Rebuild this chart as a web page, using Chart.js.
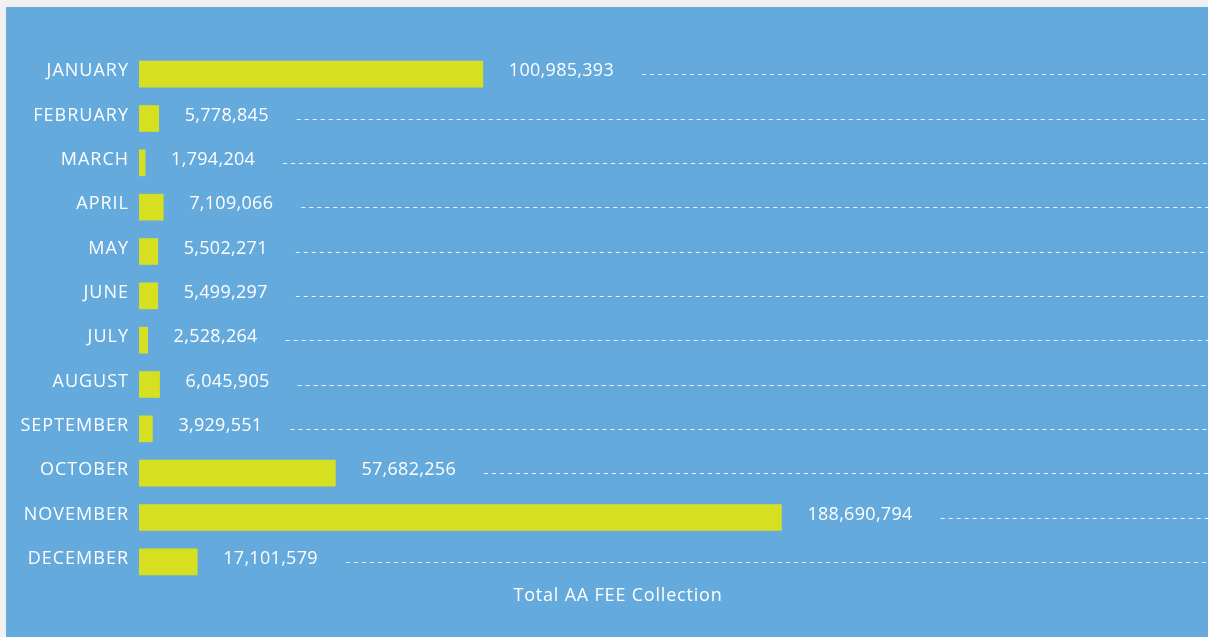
<!DOCTYPE html>
<html>
<head>
<meta charset="utf-8">
<script src="https://cdn.jsdelivr.net/npm/chart.js@4/dist/chart.umd.min.js"></script>
<style>
  html, body { margin: 0; padding: 0; background: #f0f0f0; }
  #panel { position: absolute; left: 6px; top: 7px; width: 1202px; height: 630px; background: #65aadd; }
  #panel canvas { display: block; }
</style>
</head>
<body>
<div id="panel"><canvas id="feeChart" width="1202" height="630"></canvas></div>
<script>
const months = ['JANUARY', 'FEBRUARY', 'MARCH', 'APRIL', 'MAY', 'JUNE', 'JULY',
  'AUGUST', 'SEPTEMBER', 'OCTOBER', 'NOVEMBER', 'DECEMBER'];
const feeCollection = [100985393, 5778845, 1794204, 7109066, 5502271, 5499297,
  2528264, 6045905, 3929551, 57682256, 188690794, 17101579];
const chartTitle = 'Total AA FEE Collection';

const textFont = '"Open Sans", sans-serif';

// wider letters for the axis labels (the original font is a wide one)
const spacing = {
  id: 'spacing',
  beforeDraw(chart) {
    chart.ctx.letterSpacing = '1px';
  }
};

// value text after each bar, then a dashed line out to the right edge
const valueLines = {
  id: 'valueLines',
  afterDatasetsDraw(chart) {
    const ctx = chart.ctx;
    const area = chart.chartArea;
    const bars = chart.getDatasetMeta(0).data;
    ctx.save();
    ctx.letterSpacing = '0.3px';
    ctx.font = '18px ' + textFont;
    ctx.fillStyle = '#ffffff';
    ctx.textBaseline = 'middle';
    ctx.textAlign = 'left';
    bars.forEach((bar, i) => {
      const txt = feeCollection[i].toLocaleString('en-US');
      const tx = bar.x + 26;
      ctx.fillText(txt, tx, bar.y - 3);
      const w = ctx.measureText(txt).width;
      ctx.beginPath();
      ctx.setLineDash([4, 4]);
      ctx.strokeStyle = 'rgba(255,255,255,0.85)';
      ctx.lineWidth = 1;
      ctx.moveTo(tx + w + 28, Math.round(bar.y) + 0.5);
      ctx.lineTo(area.right, Math.round(bar.y) + 0.5);
      ctx.stroke();
    });
    ctx.setLineDash([]);
    ctx.letterSpacing = '0.8px';
    ctx.textAlign = 'center';
    ctx.fillText(chartTitle, 612, 589);
    ctx.restore();
  }
};

const myChart = new Chart(document.getElementById('feeChart'), {
  type: 'bar',
  data: {
    labels: months,
    datasets: [{
      label: chartTitle,
      data: feeCollection,
      backgroundColor: '#d6e020',
      borderWidth: 0,
      barThickness: 26
    }]
  },
  options: {
    indexAxis: 'y',
    responsive: false,
    animation: false,
    layout: { padding: { top: 45, bottom: 53, right: 0, left: 0 } },
    plugins: {
      legend: { display: false },
      tooltip: { enabled: false },
      title: { display: false }
    },
    scales: {
      x: {
        display: false,
        min: 0,
        max: 314000000
      },
      y: {
        afterFit(axis) { axis.width = 133; },
        grid: { display: false },
        border: { display: false },
        ticks: {
          color: '#ffffff',
          padding: 2,
          labelOffset: -3,
          font: { family: textFont, size: 18 }
        }
      }
    }
  },
  plugins: [spacing, valueLines]
});
</script>
</body>
</html>
